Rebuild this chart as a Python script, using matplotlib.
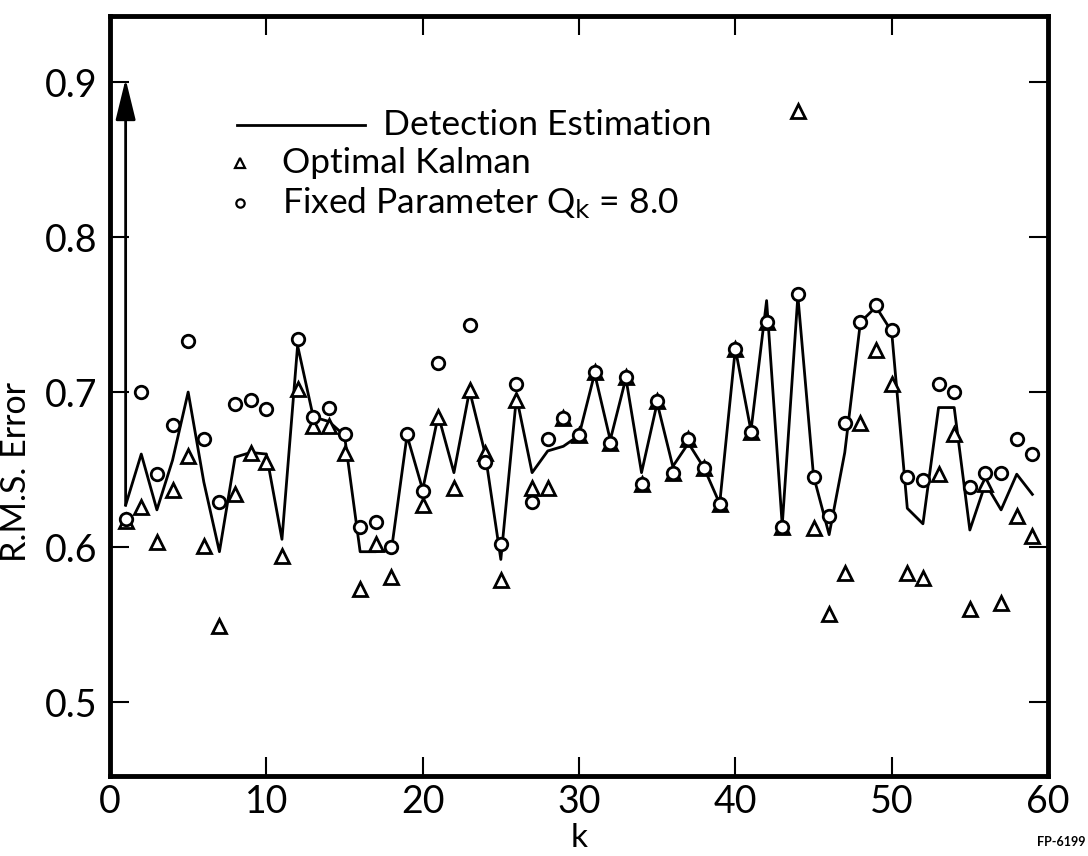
import numpy as np
import matplotlib
matplotlib.use("Agg")
import matplotlib.pyplot as plt

# ---------------- data ----------------
k = list(range(1, 60))

detection_estimation = [
    0.627, 0.660, 0.624, 0.656, 0.700, 0.642, 0.597, 0.658, 0.661, 0.660,
    0.605, 0.730, 0.684, 0.681, 0.672, 0.597, 0.597, 0.598, 0.672, 0.637,
    0.685, 0.648, 0.701, 0.660, 0.592, 0.697, 0.648, 0.662, 0.665, 0.672,
    0.712, 0.669, 0.709, 0.648, 0.693, 0.652, 0.667, 0.651, 0.628, 0.728,
    0.675, 0.759, 0.614, 0.762, 0.646, 0.608, 0.661, 0.745, 0.755, 0.739,
    0.625, 0.615, 0.690, 0.690, 0.611, 0.641, 0.624, 0.647, 0.634,
]

optimal_kalman = [
    0.617, 0.626, 0.603, 0.637, 0.659, 0.601, 0.549, 0.634, 0.661, 0.655,
    0.594, 0.702, 0.678, 0.678, 0.661, 0.573, 0.602, 0.581, np.nan, 0.627,
    0.684, 0.638, 0.701, 0.661, 0.579, 0.695, 0.638, 0.638, 0.683, 0.672,
    0.713, 0.667, 0.710, 0.641, 0.694, 0.648, 0.670, 0.651, 0.628, 0.728,
    0.674, 0.745, 0.613, 0.881, 0.612, 0.557, 0.583, 0.680, 0.727, 0.705,
    0.583, 0.580, 0.647, 0.673, 0.560, 0.641, 0.564, 0.620, 0.607,
]

fixed_parameter = [
    0.618, 0.700, 0.647, 0.679, 0.733, 0.670, 0.629, 0.692, 0.695, 0.689,
    np.nan, 0.734, 0.684, 0.690, 0.673, 0.613, 0.616, 0.600, 0.673, 0.636,
    0.719, np.nan, 0.743, 0.655, 0.602, 0.705, 0.629, 0.670, 0.683, 0.672,
    0.713, 0.667, 0.710, 0.641, 0.694, 0.648, 0.670, 0.651, 0.628, 0.728,
    0.674, 0.745, 0.613, 0.763, 0.645, 0.620, 0.680, 0.745, 0.756, 0.740,
    0.645, 0.643, 0.705, 0.700, 0.639, 0.648, 0.648, 0.670, 0.660,
]

arrow_top = 0.902          # value the off-scale arrow points to at k = 1

x_ticks = [0, 10, 20, 30, 40, 50, 60]
y_ticks = [0.5, 0.6, 0.7, 0.8, 0.9]
y_ticklabels = ["0.5", "0.6", "0.7", "0.8", "0.9"]

legend_labels = ["Detection Estimation", "Optimal Kalman",
                 "Fixed Parameter Q$_{\\rm k}$ = 8.0"]

# ---------------- style ----------------
plt.rcParams["font.family"] = ["Lato", "DejaVu Sans"]
plt.rcParams["mathtext.default"] = "regular"

W, H = 1088, 856
fig = plt.figure(figsize=(W / 100, H / 100), dpi=100)
ax = fig.add_axes([110 / W, 1 - 776 / H, 938 / W, 760 / H])

# data
ax.plot(k, detection_estimation, color="black", lw=2.0, zorder=2)
ax.plot(k, optimal_kalman, linestyle="none", marker="^", ms=10,
        mfc="white", mec="black", mew=2.0, zorder=3)
ax.plot(k, fixed_parameter, linestyle="none", marker="o", ms=9,
        mfc="white", mec="black", mew=2.0, zorder=4)

# off-scale arrow at the first step
ax.annotate("", xy=(k[0], arrow_top), xytext=(k[0], detection_estimation[0]),
            arrowprops=dict(arrowstyle="-|>,head_width=0.22,head_length=0.9",
                            lw=2.0, color="black",
                            mutation_scale=28, shrinkA=0, shrinkB=0),
            zorder=2)

# axes
ax.set_xlim(0, 60)
ax.set_ylim(0.4523, 0.9426)
ax.set_xticks(x_ticks)
ax.set_yticks(y_ticks)
ax.set_yticklabels(y_ticklabels)
ax.tick_params(direction="in", length=14, width=1.5, top=True, right=True,
               labelsize=27, colors="black")
ax.tick_params(axis="x", pad=6)
ax.tick_params(axis="y", pad=9)
for s in ax.spines.values():
    s.set_linewidth(3.5)

ax.set_xlabel("k", fontsize=24)
ax.xaxis.set_label_coords(0.5, -0.062)
ax.set_ylabel("R.M.S. Error", fontsize=24.5)
ax.yaxis.set_label_coords(-0.083, 0.40)

# hand-placed legend (as in the original figure)
tr = ax.transAxes
fs_leg = 25.5
ax.plot([0.135, 0.272], [0.857, 0.857], color="black", lw=2.0, transform=tr)
ax.text(0.291, 0.857, legend_labels[0], transform=tr, fontsize=fs_leg,
        va="center", ha="left")
ax.plot([0.139], [0.807], marker="^", ms=7, mfc="white", mec="black",
        mew=1.6, transform=tr)
ax.text(0.183, 0.807, legend_labels[1], transform=tr, fontsize=fs_leg,
        va="center", ha="left")
ax.plot([0.139], [0.754], marker="o", ms=6, mfc="white", mec="black",
        mew=1.6, transform=tr)
ax.text(0.183, 0.754, legend_labels[2], transform=tr, fontsize=fs_leg,
        va="center", ha="left")

fig.text(1085 / W, 1 - 842 / H, "FP-6199", fontsize=9, fontweight="bold",
         ha="right", va="center")

fig.savefig("out.png", dpi=100, facecolor="white")
